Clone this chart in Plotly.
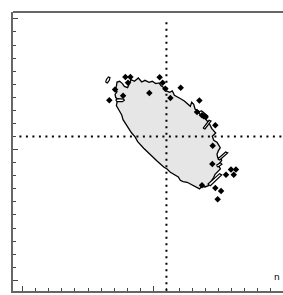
import plotly.graph_objects as go

# Main contour outline (data units)
outline_x = [7.17, 7.22, 7.42, 7.63, 7.78, 8.03, 8.29, 8.55, 8.85, 9.11, 9.36, 9.67, 9.92, 10.18, 10.43,
             10.59, 10.84, 10.99, 11.25, 11.45, 11.61, 11.86, 12.12, 12.37, 12.63, 12.83, 12.93, 13.09,
             13.19, 13.44, 13.59, 13.80, 14.00, 14.16, 14.31, 14.46, 14.67, 14.77, 14.51, 14.62, 14.87,
             15.02, 15.12, 14.97, 14.87, 14.92, 15.18, 15.23, 14.97, 15.13, 14.87, 14.72, 14.61, 14.46,
             14.36, 14.21, 13.95, 13.70, 13.54, 13.29, 13.04, 12.78, 12.58, 12.27, 12.06, 11.91, 11.61,
             11.30, 11.05, 10.79, 10.28, 9.77, 9.26, 8.80, 8.60, 8.34, 8.09, 7.88, 7.68, 7.58, 7.47,
             7.32, 7.17, 7.22, 7.32, 7.12, 7.07, 7.22, 7.12, 7.17]
outline_y = [14.84, 15.17, 15.23, 15.05, 14.84, 14.74, 15.35, 15.23, 15.48, 15.17, 15.30, 15.15, 15.23,
             15.05, 15.10, 14.89, 14.72, 14.49, 14.38, 14.49, 14.15, 14.03, 13.87, 13.72, 13.47, 13.31,
             13.62, 13.47, 13.11, 12.96, 12.70, 12.55, 12.34, 12.14, 11.94, 11.63, 11.43, 11.27, 11.02,
             10.71, 10.56, 10.35, 10.15, 9.90, 9.64, 9.39, 9.33, 9.18, 8.82, 8.52, 8.26, 8.11, 7.86,
             7.60, 7.40, 7.24, 7.14, 7.19, 6.99, 7.14, 7.29, 7.40, 7.50, 7.55, 7.65, 7.91, 8.11, 8.26,
             8.52, 8.67, 9.13, 9.59, 10.10, 10.61, 10.97, 11.27, 11.63, 11.94, 12.29, 12.65, 12.90,
             13.11, 13.36, 13.62, 13.82, 13.98, 14.23, 14.43, 14.64, 14.84]

# Small closed contour islands
islands = [
    ([6.35, 6.40, 6.56, 6.68, 6.63, 6.48, 6.35], [15.15, 15.35, 15.56, 15.51, 15.30, 15.10, 15.15]),
    ([7.12, 7.27, 7.73, 7.78, 7.63, 7.22, 7.12], [13.80, 13.90, 13.87, 13.77, 13.67, 13.67, 13.80]),
    ([13.54, 13.70, 14.16, 14.11, 13.95, 13.49, 13.54], [12.93, 12.96, 12.57, 12.42, 12.42, 12.78, 12.93]),
    ([13.80, 14.26, 14.41, 13.95, 13.80], [11.63, 12.24, 12.19, 11.58, 11.63]),
    ([14.92, 15.53, 15.69, 15.07, 14.92], [9.28, 9.82, 9.74, 9.21, 9.28]),
    ([14.16, 15.07, 15.23, 14.36, 14.16], [7.35, 8.16, 8.06, 7.24, 7.35]),
    ([14.82, 15.13, 15.25, 14.95, 14.82], [8.80, 9.00, 8.88, 8.67, 8.80]),
]

# Outlying points
pts_x = [6.63, 7.07, 7.68, 7.86, 8.06, 8.24, 9.69, 10.48, 10.71, 10.92, 11.30, 12.09, 13.52, 13.34,
         13.72, 13.85, 14.00, 14.74, 14.54, 14.51, 13.72, 15.94, 16.32, 15.56, 16.15, 14.74, 15.18, 14.92]
pts_y = [13.77, 14.59, 14.13, 15.56, 15.12, 15.56, 14.33, 15.53, 15.12, 14.66, 13.95, 14.74, 13.75, 12.88,
         12.62, 12.55, 12.50, 11.86, 10.30, 8.90, 7.27, 8.47, 8.47, 8.08, 8.08, 7.06, 6.83, 6.20]

center_x = 11
center_y = 11

fig = go.Figure()
fig.add_trace(go.Scatter(x=outline_x, y=outline_y, mode="lines", fill="toself",
                         fillcolor="#e6e6e6", line=dict(color="black", width=1.3),
                         hoverinfo="skip", showlegend=False))
for ix, iy in islands:
    fig.add_trace(go.Scatter(x=ix, y=iy, mode="lines", fill="toself", fillcolor="white",
                             line=dict(color="black", width=1.2), hoverinfo="skip", showlegend=False))
fig.add_trace(go.Scatter(x=pts_x, y=pts_y, mode="markers",
                         marker=dict(symbol="diamond", size=5, color="black"),
                         showlegend=False))

dot = dict(color="black", width=2, dash="2px,4.5px")
fig.add_shape(type="line", x0=center_x, x1=center_x, y0=-0.8, y1=19.9, line=dot, layer="above")
fig.add_shape(type="line", x0=-0.25, x1=20, y0=center_y, y1=center_y, line=dot, layer="above")
fig.add_shape(type="line", xref="paper", yref="paper", x0=0, x1=1, y0=1, y1=1,
              line=dict(color="#666", width=2))

fig.add_annotation(x=1, xref="paper", y=0.25, text="n", showarrow=False, xanchor="right",
                   yanchor="middle", xshift=-1,
                   font=dict(size=9, color="black", family="DejaVu Sans"))

axis_common = dict(showgrid=False, zeroline=False, showticklabels=False,
                   showline=True, linecolor="#666", linewidth=2,
                   ticks="inside", tick0=0, dtick=10, ticklen=5, tickwidth=1, tickcolor="#444",
                   minor=dict(ticks="inside", dtick=1, ticklen=3, tickwidth=1, tickcolor="#444"))
fig.update_xaxes(range=[-0.74, 19.92], **axis_common)
fig.update_yaxes(range=[-0.82, 20.53], **axis_common)

fig.update_layout(width=283, height=295, margin=dict(l=13, r=0, t=12, b=4),
                  plot_bgcolor="white", paper_bgcolor="white")
fig.write_html("out.html", config={"displayModeBar": False},
               post_script="document.body.style.margin='0';document.body.style.overflow='hidden';")
